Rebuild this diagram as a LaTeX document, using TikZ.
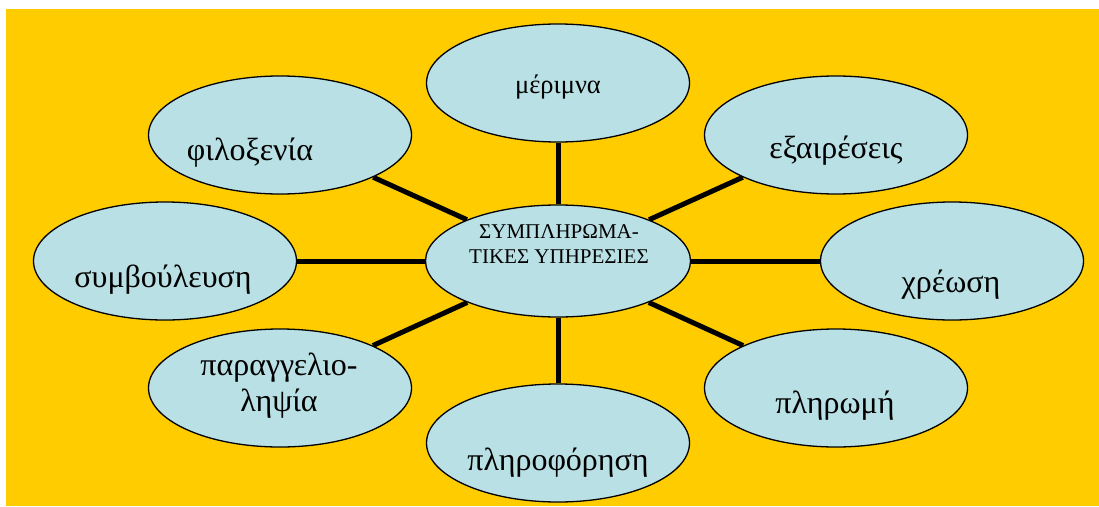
\documentclass[tikz,border=0pt]{standalone}
\usepackage{fontspec}
\setmainfont{Liberation Serif}
\usetikzlibrary{shapes.geometric}
\pgfdeclarelayer{backdrop}
\pgfdeclarelayer{bg}
\pgfsetlayers{backdrop,bg,main}
\definecolor{bgyellow}{RGB}{255,204,0}
\definecolor{bubblec}{RGB}{185,224,228}
\begin{document}
\begin{tikzpicture}[x=1pt,y=-1pt,
  bubble/.style={ellipse, draw=black, line width=1.3pt, fill=bubblec,
    minimum width=263pt, minimum height=118pt, inner sep=0pt},
  spoke/.style={line width=5pt},
  lbl/.style={anchor=base, inner sep=0pt, align=center, text=black,
    font=\fontsize{32}{36}\selectfont}]
\useasboundingbox (0,0) rectangle (1099,506);
\begin{pgfonlayer}{backdrop}
\fill[bgyellow] (6,9) rectangle (1099,506);
\end{pgfonlayer}

% bubbles
\node[bubble, minimum width=265pt, minimum height=112pt] (c) at (558,261) {};
\node[bubble] (mer) at (558,83) {};
\node[bubble] (fil) at (280,135) {};
\node[bubble] (exa) at (836,135) {};
\node[bubble] (sym) at (165,261) {};
\node[bubble] (chr) at (952,261) {};
\node[bubble] (par) at (280,388) {};
\node[bubble] (plr) at (836,388) {};
\node[bubble] (plf) at (558,443) {};

% spokes
\begin{pgfonlayer}{bg}
\foreach \n in {mer,fil,exa,sym,chr,par,plr,plf}
  \draw[spoke] (c) -- (\n);
\end{pgfonlayer}

% labels
\node[lbl, font=\fontsize{21}{25}\selectfont] (tc) at (559,263) {ΣΥΜΠΛΗΡΩΜΑ-\\ΤΙΚΕΣ ΥΠΗΡΕΣΙΕΣ};
\node[lbl, font=\fontsize{26.5}{30}\selectfont] (tmer) at (558,93) {μέριμνα};
\node[lbl] (tfil) at (250,160) {φιλοξενία};
\node[lbl] (texa) at (836,158) {εξαιρέσεις};
\node[lbl] (tsym) at (163,287) {συμβούλευση};
\node[lbl] (tchr) at (951,292) {χρέωση};
\node[lbl] (tpar) at (279,411) {παραγγελιο-\\ληψία};
\node[lbl] (tplr) at (835,413) {πληρωμή};
\node[lbl] (tplf) at (558,470) {πληροφόρηση};
\end{tikzpicture}
\end{document}
